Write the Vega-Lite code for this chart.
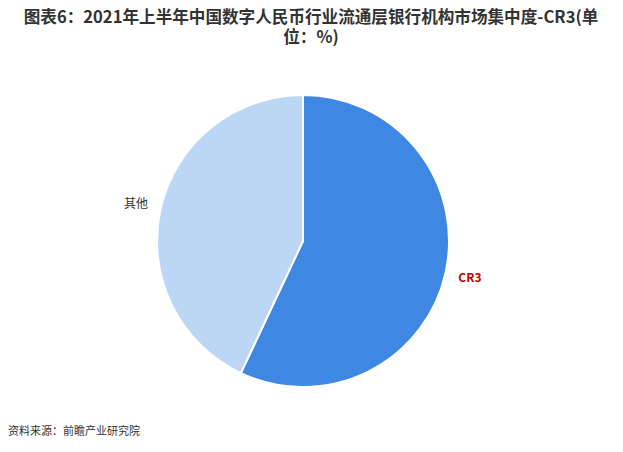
{
  "$schema": "https://vega.github.io/schema/vega-lite/v6.json",
  "background": "white",
  "padding": {"left": 0, "top": 10, "right": 0, "bottom": 0},
  "title": {
    "text": "资料来源：前瞻产业研究院",
    "orient": "bottom",
    "anchor": "start",
    "offset": -6,
    "dx": 8,
    "fontSize": 11,
    "fontWeight": "normal",
    "font": "Noto Sans CJK SC",
    "color": "#333333"
  },
  "config": {"view": {"stroke": null}},
  "vconcat": [
    {
      "width": 606,
      "height": 382,
      "title": {
        "text": ["图表6：2021年上半年中国数字人民币行业流通层银行机构市场集中度-CR3(单", "位：%)"],
        "anchor": "middle",
        "frame": "group",
        "dx": 8,
        "offset": 3,
        "fontSize": 16.6,
        "lineHeight": 20,
        "fontWeight": "bold",
        "font": "Noto Sans CJK SC",
        "color": "#333333"
      },
      "data": {
        "values": [
          {"category": "CR3", "value": 57},
          {"category": "其他", "value": 43}
        ]
      },
      "resolve": {"scale": {"color": "independent"}},
      "layer": [
        {
          "mark": {"type": "arc", "outerRadius": 146, "stroke": "white", "strokeWidth": 2},
          "encoding": {
            "theta": {"field": "value", "type": "quantitative", "stack": true},
            "color": {
              "field": "category",
              "type": "nominal",
              "scale": {"domain": ["CR3", "其他"], "range": ["#3E87E2", "#BCD7F5"]},
              "legend": null
            }
          }
        },
        {
          "mark": {
            "type": "text",
            "radius": 171,
            "fontSize": 12,
            "font": "Noto Sans CJK SC",
            "fontWeight": {"expr": "datum.category == 'CR3' ? 'bold' : 'normal'"}
          },
          "encoding": {
            "theta": {"field": "value", "type": "quantitative", "stack": true},
            "text": {"field": "category"},
            "color": {
              "field": "category",
              "type": "nominal",
              "scale": {"domain": ["CR3", "其他"], "range": ["#C00000", "#333333"]},
              "legend": null
            }
          }
        }
      ]
    }
  ]
}
